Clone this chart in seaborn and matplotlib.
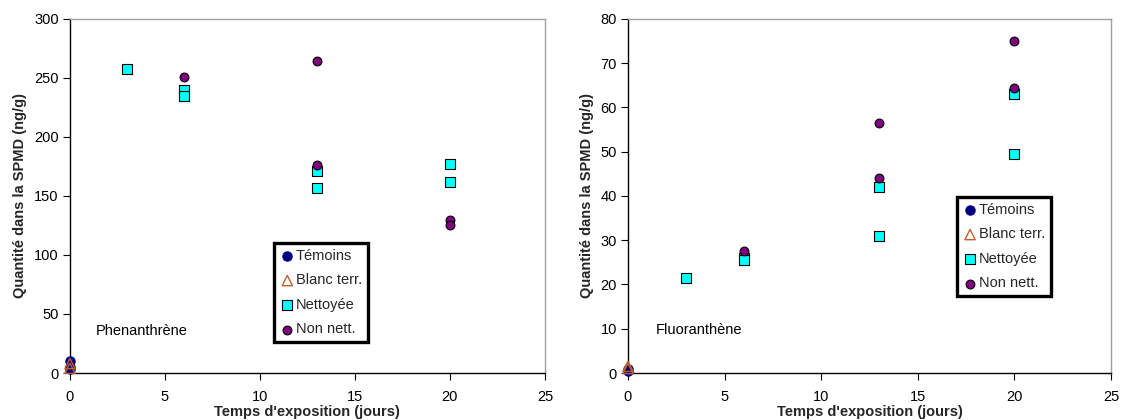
import matplotlib
matplotlib.use("Agg")
import matplotlib.pyplot as plt
import seaborn as sns
import pandas as pd

sns.set_theme(style="white")
plt.rcParams['font.family'] = ['Liberation Sans', 'DejaVu Sans']

series = ["Témoins", "Blanc terr.", "Nettoyée", "Non nett."]

# Phenanthrène
phe_temoins_x = [0, 0, 0]
phe_temoins_y = [10, 5, 3]
phe_blanc_x = [0, 0]
phe_blanc_y = [8, 4]
phe_nett_x = [3, 6, 6, 13, 13, 20, 20]
phe_nett_y = [258, 240, 235, 171, 157, 177, 162]
phe_non_x = [6, 13, 13, 20, 20]
phe_non_y = [251, 264, 176, 130, 125]

# Fluoranthène
flu_temoins_x = [0, 0]
flu_temoins_y = [1, 0.5]
flu_blanc_x = [0, 0]
flu_blanc_y = [1.5, 1]
flu_nett_x = [3, 6, 6, 13, 13, 20, 20]
flu_nett_y = [21.5, 26, 25.5, 42, 31, 63, 49.5]
flu_non_x = [6, 13, 13, 20, 20]
flu_non_y = [27.5, 56.5, 44, 75, 64.5]

styles = {
    "Témoins": dict(marker="o", color="#000080", edgecolor="#000080", s=45, linewidth=0.8),
    "Blanc terr.": dict(marker="^", color="none", edgecolor="#C0602A", s=55, linewidth=1.0),
    "Nettoyée": dict(marker="s", color="#00FFFF", edgecolor="black", s=55, linewidth=0.8),
    "Non nett.": dict(marker="o", color="#800080", edgecolor="black", s=40, linewidth=0.8),
}

def make_df(groups):
    rows = []
    for name, xs, ys in groups:
        for x, y in zip(xs, ys):
            rows.append({"serie": name, "x": x, "y": y})
    return pd.DataFrame(rows)

df_phe = make_df([("Témoins", phe_temoins_x, phe_temoins_y),
                  ("Blanc terr.", phe_blanc_x, phe_blanc_y),
                  ("Nettoyée", phe_nett_x, phe_nett_y),
                  ("Non nett.", phe_non_x, phe_non_y)])
df_flu = make_df([("Témoins", flu_temoins_x, flu_temoins_y),
                  ("Blanc terr.", flu_blanc_x, flu_blanc_y),
                  ("Nettoyée", flu_nett_x, flu_nett_y),
                  ("Non nett.", flu_non_x, flu_non_y)])

fig = plt.figure(figsize=(11.21, 4.2), dpi=100)
ax1 = fig.add_axes([0.0624, 0.1119, 0.4237, 0.843])
ax2 = fig.add_axes([0.5602, 0.1119, 0.4309, 0.843])

def draw(ax, df, ymax, ystep, label, lx, ly, leg_anchor):
    for name in series:
        sub = df[df["serie"] == name]
        st = styles[name]
        if st["color"] == "none":
            sns.scatterplot(data=sub, x="x", y="y", ax=ax, marker=st["marker"],
                            facecolors="none", edgecolor=st["edgecolor"], s=st["s"],
                            linewidth=st["linewidth"], label=name, zorder=3, clip_on=False)
        else:
            sns.scatterplot(data=sub, x="x", y="y", ax=ax, marker=st["marker"],
                            color=st["color"], edgecolor=st["edgecolor"], s=st["s"],
                            linewidth=st["linewidth"], label=name, zorder=3, clip_on=False)
    ax.set_xlim(0, 25)
    ax.set_ylim(0, ymax)
    ax.set_xticks(range(0, 26, 5))
    ax.set_yticks(range(0, ymax + 1, ystep))
    ax.tick_params(axis="both", which="both", direction="out", length=5, width=0.8,
                   colors="black", labelsize=10.5, bottom=True, left=True)
    ax.tick_params(axis="x", pad=7)
    ax.tick_params(axis="y", pad=3)
    for sp in ["left", "bottom"]:
        ax.spines[sp].set_color("black")
        ax.spines[sp].set_linewidth(1.0)
    for sp in ["top", "right"]:
        ax.spines[sp].set_color("#A0A0A0")
        ax.spines[sp].set_linewidth(1.0)
    ax.set_xlabel("Temps d'exposition (jours)", fontsize=10.5, fontweight="bold", labelpad=1)
    ax.set_ylabel("Quantité dans la SPMD (ng/g)", fontsize=10.5, fontweight="bold", labelpad=5)
    ax.text(lx, ly, label, fontsize=10.5, color="black", va="center", ha="left")
    leg = ax.legend(loc="upper left", bbox_to_anchor=leg_anchor, frameon=True,
                    fancybox=False, edgecolor="black", framealpha=1.0, fontsize=10.5,
                    handletextpad=0.1, handlelength=1.0, borderpad=0.4,
                    labelspacing=0.72, borderaxespad=0)
    leg.get_frame().set_linewidth(2.4)
    leg.get_frame().set_facecolor("white")
    leg.get_frame().set_edgecolor("black")

draw(ax1, df_phe, 300, 50, "Phenanthrène", 1.35, 36, (0.43, 0.367))
draw(ax2, df_flu, 80, 10, "Fluoranthène", 1.45, 9.7, (0.681, 0.497))

fig.savefig("out.png", dpi=100)
